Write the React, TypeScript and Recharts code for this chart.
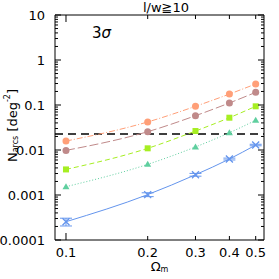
import { LineChart, Line, XAxis, YAxis, ReferenceLine, ErrorBar, Customized } from 'recharts';

const omegaM = [0.1, 0.2, 0.3, 0.4, 0.5];
const orangeVals = [0.0158, 0.042, 0.0935, 0.175, 0.293];
const brownVals = [0.0098, 0.0255, 0.0578, 0.111, 0.191];
const greenVals = [0.0037, 0.0109, 0.0264, 0.0522, 0.0935];
const tealVals = [0.00153, 0.0048, 0.0117, 0.0242, 0.0457];
const blueVals = [0.000255, 0.00102, 0.00282, 0.0063, 0.0129];
const blueErr = [0.00005, 0.0001, 0.0002, 0.0003, 0.0005];
const threshold = 0.0227;

const xTicks = [0.1, 0.2, 0.3, 0.4, 0.5];
const yMajor = [0.0001, 0.001, 0.01, 0.1, 1, 10];
const yTicks: number[] = [];
yMajor.forEach((m, i) => {
  yTicks.push(m);
  if (i < yMajor.length - 1) for (let k = 2; k <= 9; k++) yTicks.push(+(m * k).toPrecision(3));
});
const yLabels: Record<string, string> = { '0.0001': '0.0001', '0.001': '0.001', '0.01': '0.01', '0.1': '0.1', '1': '1', '10': '10' };

const data = omegaM.map((x, i) => ({
  x,
  orange: orangeVals[i],
  brown: brownVals[i],
  green: greenVals[i],
  teal: tealVals[i],
  blue: blueVals[i],
  blueErr: blueErr[i],
}));

const font = '"DejaVu Sans", sans-serif';
const isMajor = (v: number) => Math.abs(Math.log10(v) - Math.round(Math.log10(v))) < 1e-6;

const LeftTick = (p: any) => {
  const v = p.payload.value;
  const major = isMajor(v);
  return (
    <g>
      <line x1={p.x} x2={p.x + (major ? 6 : 3)} y1={p.y} y2={p.y} stroke="#000" strokeWidth={1} />
      {major && (
        <text x={p.x - 10} y={p.y} textAnchor="end" dominantBaseline="central" fontSize={13} fontFamily={font} fill="#000">
          {yLabels[String(v)]}
        </text>
      )}
    </g>
  );
};

const RightTick = (p: any) => {
  const major = isMajor(p.payload.value);
  return <line x1={p.x} x2={p.x - (major ? 6 : 3)} y1={p.y} y2={p.y} stroke="#000" strokeWidth={1} />;
};

const BottomTick = (p: any) => (
  <g>
    <line x1={p.x} x2={p.x} y1={p.y} y2={p.y - (p.payload.value === 0.1 ? 7 : 4)} stroke="#000" strokeWidth={1} />
    <text x={p.x} y={p.y + 12} textAnchor="middle" dominantBaseline="central" fontSize={13} fontFamily={font} fill="#000">
      {p.payload.value}
    </text>
  </g>
);

const TopTick = (p: any) => (
  <line x1={p.x} x2={p.x} y1={p.y} y2={p.y + (p.payload.value === 0.1 ? 7 : 4)} stroke="#000" strokeWidth={1} />
);

const Square = (p: any) => <rect x={p.cx - 3} y={p.cy - 3} width={6} height={6} fill={p.fill} />;
const Triangle = (p: any) => (
  <path d={`M${p.cx},${p.cy - 3.5}L${p.cx + 3.5},${p.cy + 2.5}L${p.cx - 3.5},${p.cy + 2.5}Z`} fill={p.fill} />
);
const Cross = (p: any) => (
  <path d={`M${p.cx - 3.5},${p.cy - 3.5}L${p.cx + 3.5},${p.cy + 3.5}M${p.cx + 3.5},${p.cy - 3.5}L${p.cx - 3.5},${p.cy + 3.5}`} stroke={p.stroke} strokeWidth={1.3} fill="none" />
);

const YLabel = (p: any) => {
  const vb = p.viewBox;
  const cx = 12;
  const cy = vb.y + vb.height / 2 - 2;
  return (
    <text x={cx} y={cy} transform={`rotate(-90 ${cx} ${cy})`} textAnchor="middle" dominantBaseline="central" fontSize={13} fontFamily={font} fill="#000">
      N<tspan fontSize={8} dy={3}>arcs</tspan>
      <tspan dy={-3}> [deg</tspan>
      <tspan fontSize={8} dy={-5}>-2</tspan>
      <tspan dy={5}>]</tspan>
    </text>
  );
};

const XLabel = (p: any) => {
  const vb = p.viewBox;
  const cx = vb.x + vb.width / 2;
  return (
    <text x={cx} y={266} textAnchor="middle" dominantBaseline="central" fontSize={13} fontFamily={font} fill="#000">
      Ω<tspan fontSize={8} dy={3}>m</tspan>
    </text>
  );
};

const Notes = () => (
  <g fontFamily={font} fill="#000">
    <text x={166} y={7} textAnchor="middle" dominantBaseline="central" fontSize={13}>l/w≧10</text>
    <text x={92} y={38} fontSize={15}>3<tspan fontStyle="italic">σ</tspan></text>
  </g>
);

export default function App() {
  return (
    <div style={{ position: 'absolute', left: 0, top: 0, width: 279, height: 279, background: '#fff' }}>
      <LineChart width={279} height={279} data={data} margin={{ top: 0, right: 0, bottom: 0, left: 0 }}>
        <XAxis
          dataKey="x"
          type="number"
          scale="log"
          domain={[0.0911, 0.5365]}
          allowDataOverflow
          ticks={xTicks}
          interval={0}
          height={39}
          tickSize={0}
          tickMargin={0}
          tickLine={false}
          tick={BottomTick}
          axisLine={{ stroke: '#000' }}
          label={{ content: XLabel }}
        />
        <XAxis
          xAxisId="t"
          orientation="top"
          dataKey="x"
          type="number"
          scale="log"
          domain={[0.0911, 0.5365]}
          allowDataOverflow
          ticks={xTicks}
          interval={0}
          height={15}
          tickSize={0}
          tickMargin={0}
          tickLine={false}
          tick={TopTick}
          axisLine={{ stroke: '#000' }}
        />
        <YAxis
          type="number"
          scale="log"
          domain={[0.0001, 10]}
          allowDataOverflow
          ticks={yTicks}
          interval={0}
          width={55}
          tickSize={0}
          tickMargin={0}
          tickLine={false}
          tick={LeftTick}
          axisLine={{ stroke: '#000' }}
          label={{ content: YLabel }}
        />
        <YAxis
          yAxisId="r"
          orientation="right"
          type="number"
          scale="log"
          domain={[0.0001, 10]}
          allowDataOverflow
          ticks={yTicks}
          interval={0}
          width={15}
          tickSize={0}
          tickMargin={0}
          tickLine={false}
          tick={RightTick}
          axisLine={{ stroke: '#000' }}
        />
        <ReferenceLine y={threshold} stroke="#000" strokeWidth={1.5} strokeDasharray="8 5" />
        <Line dataKey="orange" type="monotone" stroke="#ff9f78" strokeWidth={1} strokeDasharray="6 2 1 2" dot={{ r: 3.5, fill: '#ff9f78', stroke: 'none' }} isAnimationActive={false} />
        <Line dataKey="brown" type="monotone" stroke="#c08a8a" strokeWidth={1} strokeDasharray="9 3" dot={{ r: 3.5, fill: '#c08a8a', stroke: 'none' }} isAnimationActive={false} />
        <Line dataKey="green" type="monotone" stroke="#a6ee22" strokeWidth={1} strokeDasharray="5 3" dot={<Square fill="#a6ee22" />} isAnimationActive={false} />
        <Line dataKey="teal" type="monotone" stroke="#5fcf9f" strokeWidth={1} strokeDasharray="1 2" dot={<Triangle fill="#5fcf9f" />} isAnimationActive={false} />
        <Line dataKey="blue" type="monotone" stroke="#6495ed" strokeWidth={1} dot={<Cross stroke="#6495ed" />} isAnimationActive={false}>
          <ErrorBar dataKey="blueErr" width={6} stroke="#6495ed" strokeWidth={1} direction="y" />
        </Line>
        <Customized component={Notes} />
      </LineChart>
    </div>
  );
}
